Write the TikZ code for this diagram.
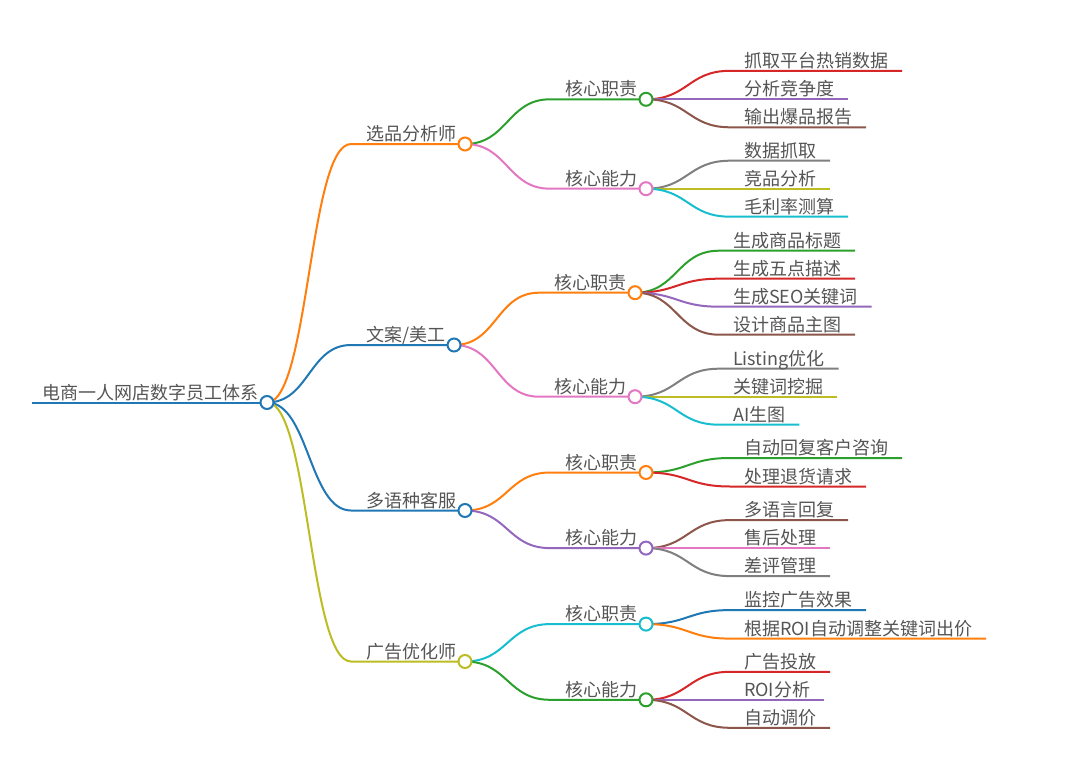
\documentclass[tikz,border=0pt]{standalone}
\usepackage{fontspec}
\setmainfont{Noto Sans CJK SC}
\usetikzlibrary{calc}

\pgfdeclarelayer{bg}
\pgfsetlayers{bg,main}

% tab10 palette
\definecolor{tblue}{HTML}{1F77B4}
\definecolor{torange}{HTML}{FF7F0E}
\definecolor{tgreen}{HTML}{2CA02C}
\definecolor{tred}{HTML}{D62728}
\definecolor{tpurple}{HTML}{9467BD}
\definecolor{tbrown}{HTML}{8C564B}
\definecolor{tpink}{HTML}{E377C2}
\definecolor{tgray}{HTML}{7F7F7F}
\definecolor{tolive}{HTML}{BCBD22}
\definecolor{tcyan}{HTML}{17BECF}
\definecolor{txt}{HTML}{555555}

\tikzset{
  topic/.style={anchor=south west, inner xsep=15pt, inner ysep=2pt, outer sep=0pt,
    text=txt, text depth=0.15em, font=\fontsize{18}{20}\selectfont},
  leaf/.style={topic, inner xsep=14pt},
  knob/.style={circle, draw=#1, fill=white, line width=2pt, minimum size=13pt,
    inner sep=0pt, outer sep=0pt},
  link/.style={draw=#1, line width=2pt,
    to path={let \p1=(\tikztostart), \p2=(\tikztotarget) in
      .. controls ({(\x1+\x2)/2},\y1) and ({(\x1+\x2)/2},\y2) .. (\tikztotarget) \tikztonodes}},
}

\begin{document}
\begin{tikzpicture}[x=1pt,y=-1pt]
\begin{pgfonlayer}{bg}
\fill[white] (0,0) rectangle (1080,771);
\end{pgfonlayer}
\useasboundingbox (0,0) rectangle (1080,771);

% root
\node[topic, inner xsep=10pt] (root) at (32,402.5) {电商一人网店数字员工体系};
\node[knob=tblue] (root-o) at ([xshift=-1pt]root.south east) {};

% level 1
\node[topic] (xp) at ($(root-o)+(84,-258.5)$) {选品分析师};
\node[knob=torange] (xp-o) at ([xshift=-6pt]xp.south east) {};
\node[topic] (wa) at ($(root-o)+(84,-57.5)$) {文案/美工};
\node[knob=tblue] (wa-o) at ([xshift=-6pt]wa.south east) {};
\node[topic] (kf) at ($(root-o)+(84,108)$) {多语种客服};
\node[knob=tblue] (kf-o) at ([xshift=-6pt]kf.south east) {};
\node[topic] (gg) at ($(root-o)+(84,259)$) {广告优化师};
\node[knob=tolive] (gg-o) at ([xshift=-6pt]gg.south east) {};

% level 2
\node[topic] (xp-zz) at ($(xp-o)+(85,-44.7)$) {核心职责};
\node[knob=tgreen] (xp-zz-o) at ([xshift=-6pt]xp-zz.south east) {};
\node[topic] (xp-nl) at ($(xp-o)+(85,44.7)$) {核心能力};
\node[knob=tpink] (xp-nl-o) at ([xshift=-6pt]xp-nl.south east) {};
\node[topic] (wa-zz) at ($(wa-o)+(85,-52.3)$) {核心职责};
\node[knob=torange] (wa-zz-o) at ([xshift=-6pt]wa-zz.south east) {};
\node[topic] (wa-nl) at ($(wa-o)+(85,51.7)$) {核心能力};
\node[knob=tpink] (wa-nl-o) at ([xshift=-6pt]wa-nl.south east) {};
\node[topic] (kf-zz) at ($(kf-o)+(85,-38)$) {核心职责};
\node[knob=torange] (kf-zz-o) at ([xshift=-6pt]kf-zz.south east) {};
\node[topic] (kf-nl) at ($(kf-o)+(85,37.6)$) {核心能力};
\node[knob=tpurple] (kf-nl-o) at ([xshift=-6pt]kf-nl.south east) {};
\node[topic] (gg-zz) at ($(gg-o)+(85,-37.4)$) {核心职责};
\node[knob=tcyan] (gg-zz-o) at ([xshift=-6pt]gg-zz.south east) {};
\node[topic] (gg-nl) at ($(gg-o)+(85,38.3)$) {核心能力};
\node[knob=tgreen] (gg-nl-o) at ([xshift=-6pt]gg-nl.south east) {};

% leaves
\node[leaf] (xp-zz-1) at ($(xp-zz-o)+(84,-28.5)$) {抓取平台热销数据};
\node[leaf] (xp-zz-2) at ($(xp-zz-o)+(84,0)$) {分析竞争度};
\node[leaf] (xp-zz-3) at ($(xp-zz-o)+(84,28)$) {输出爆品报告};
\node[leaf] (xp-nl-1) at ($(xp-nl-o)+(84,-28)$) {数据抓取};
\node[leaf] (xp-nl-2) at ($(xp-nl-o)+(84,0)$) {竞品分析};
\node[leaf] (xp-nl-3) at ($(xp-nl-o)+(84,28)$) {毛利率测算};
\node[leaf] (wa-zz-1) at ($(wa-zz-o)+(84,-42)$) {生成商品标题};
\node[leaf] (wa-zz-2) at ($(wa-zz-o)+(84,-14)$) {生成五点描述};
\node[leaf] (wa-zz-3) at ($(wa-zz-o)+(84,14)$) {生成SEO关键词};
\node[leaf] (wa-zz-4) at ($(wa-zz-o)+(84,42)$) {设计商品主图};
\node[leaf] (wa-nl-1) at ($(wa-nl-o)+(84,-28)$) {Listing优化};
\node[leaf] (wa-nl-2) at ($(wa-nl-o)+(84,0)$) {关键词挖掘};
\node[leaf] (wa-nl-3) at ($(wa-nl-o)+(84,28)$) {AI生图};
\node[leaf] (kf-zz-1) at ($(kf-zz-o)+(84,-14.5)$) {自动回复客户咨询};
\node[leaf] (kf-zz-2) at ($(kf-zz-o)+(84,14)$) {处理退货请求};
\node[leaf] (kf-nl-1) at ($(kf-nl-o)+(84,-28)$) {多语言回复};
\node[leaf] (kf-nl-2) at ($(kf-nl-o)+(84,0)$) {售后处理};
\node[leaf] (kf-nl-3) at ($(kf-nl-o)+(84,28)$) {差评管理};
\node[leaf] (gg-zz-1) at ($(gg-zz-o)+(84,-14)$) {监控广告效果};
\node[leaf] (gg-zz-2) at ($(gg-zz-o)+(84,14.5)$) {根据ROI自动调整关键词出价};
\node[leaf] (gg-nl-1) at ($(gg-nl-o)+(84,-28)$) {广告投放};
\node[leaf] (gg-nl-2) at ($(gg-nl-o)+(84,0)$) {ROI分析};
\node[leaf] (gg-nl-3) at ($(gg-nl-o)+(84,28)$) {自动调价};

\begin{pgfonlayer}{bg}
% root and level 1
\draw[link=tblue] (root.south west) -- (root-o.center);
\draw[link=torange] (root-o.center) to (xp.south west) -- (xp-o.center);
\draw[link=tblue] (root-o.center) to (wa.south west) -- (wa-o.center);
\draw[link=tblue] (root-o.center) to (kf.south west) -- (kf-o.center);
\draw[link=tolive] (root-o.center) to (gg.south west) -- (gg-o.center);
% level 2
\draw[link=tgreen] (xp-o.center) to (xp-zz.south west) -- (xp-zz-o.center);
\draw[link=tpink] (xp-o.center) to (xp-nl.south west) -- (xp-nl-o.center);
\draw[link=torange] (wa-o.center) to (wa-zz.south west) -- (wa-zz-o.center);
\draw[link=tpink] (wa-o.center) to (wa-nl.south west) -- (wa-nl-o.center);
\draw[link=torange] (kf-o.center) to (kf-zz.south west) -- (kf-zz-o.center);
\draw[link=tpurple] (kf-o.center) to (kf-nl.south west) -- (kf-nl-o.center);
\draw[link=tcyan] (gg-o.center) to (gg-zz.south west) -- (gg-zz-o.center);
\draw[link=tgreen] (gg-o.center) to (gg-nl.south west) -- (gg-nl-o.center);
% leaves
\draw[link=tred] (xp-zz-o.center) to (xp-zz-1.south west) -- (xp-zz-1.south east);
\draw[link=tpurple] (xp-zz-o.center) to (xp-zz-2.south west) -- (xp-zz-2.south east);
\draw[link=tbrown] (xp-zz-o.center) to (xp-zz-3.south west) -- (xp-zz-3.south east);
\draw[link=tgray] (xp-nl-o.center) to (xp-nl-1.south west) -- (xp-nl-1.south east);
\draw[link=tolive] (xp-nl-o.center) to (xp-nl-2.south west) -- (xp-nl-2.south east);
\draw[link=tcyan] (xp-nl-o.center) to (xp-nl-3.south west) -- (xp-nl-3.south east);
\draw[link=tgreen] (wa-zz-o.center) to (wa-zz-1.south west) -- (wa-zz-1.south east);
\draw[link=tred] (wa-zz-o.center) to (wa-zz-2.south west) -- (wa-zz-2.south east);
\draw[link=tpurple] (wa-zz-o.center) to (wa-zz-3.south west) -- (wa-zz-3.south east);
\draw[link=tbrown] (wa-zz-o.center) to (wa-zz-4.south west) -- (wa-zz-4.south east);
\draw[link=tgray] (wa-nl-o.center) to (wa-nl-1.south west) -- (wa-nl-1.south east);
\draw[link=tolive] (wa-nl-o.center) to (wa-nl-2.south west) -- (wa-nl-2.south east);
\draw[link=tcyan] (wa-nl-o.center) to (wa-nl-3.south west) -- (wa-nl-3.south east);
\draw[link=tgreen] (kf-zz-o.center) to (kf-zz-1.south west) -- (kf-zz-1.south east);
\draw[link=tred] (kf-zz-o.center) to (kf-zz-2.south west) -- (kf-zz-2.south east);
\draw[link=tbrown] (kf-nl-o.center) to (kf-nl-1.south west) -- (kf-nl-1.south east);
\draw[link=tpink] (kf-nl-o.center) to (kf-nl-2.south west) -- (kf-nl-2.south east);
\draw[link=tgray] (kf-nl-o.center) to (kf-nl-3.south west) -- (kf-nl-3.south east);
\draw[link=tblue] (gg-zz-o.center) to (gg-zz-1.south west) -- (gg-zz-1.south east);
\draw[link=torange] (gg-zz-o.center) to (gg-zz-2.south west) -- (gg-zz-2.south east);
\draw[link=tred] (gg-nl-o.center) to (gg-nl-1.south west) -- (gg-nl-1.south east);
\draw[link=tpurple] (gg-nl-o.center) to (gg-nl-2.south west) -- (gg-nl-2.south east);
\draw[link=tbrown] (gg-nl-o.center) to (gg-nl-3.south west) -- (gg-nl-3.south east);
\end{pgfonlayer}
\end{tikzpicture}
\end{document}
